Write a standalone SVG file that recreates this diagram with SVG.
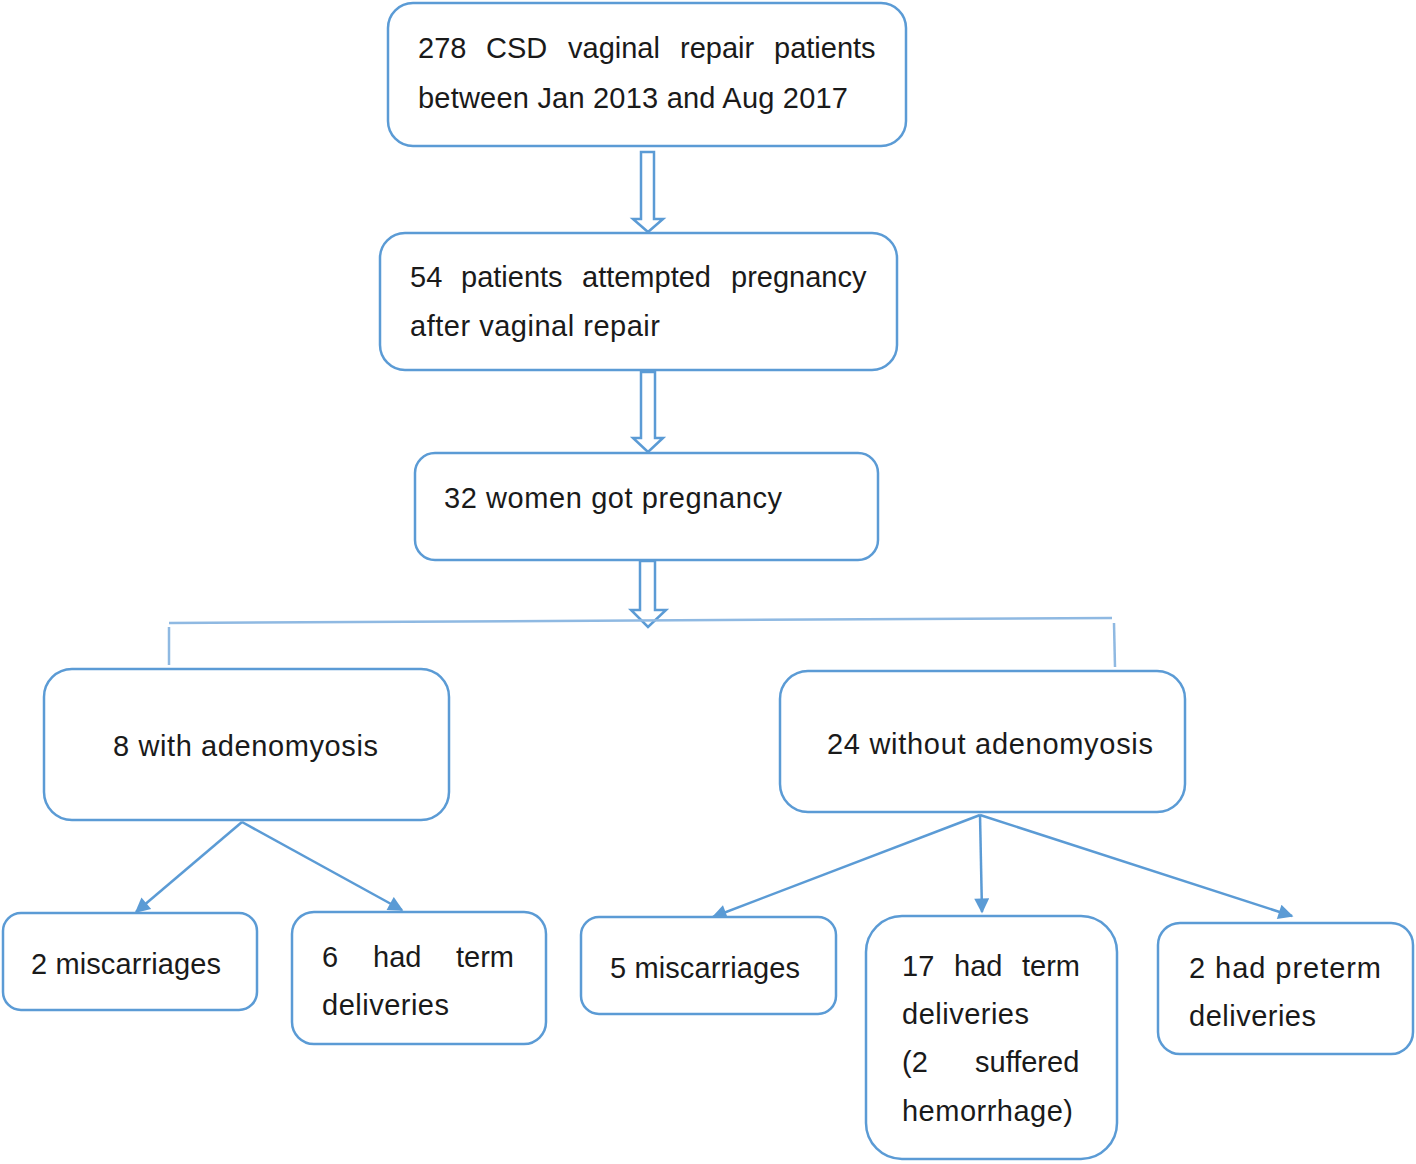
<svg xmlns="http://www.w3.org/2000/svg" width="1416" height="1164" viewBox="0 0 1416 1164">
<style>
.box{fill:#fff;stroke:#5b9bd5;stroke-width:2.5}
.t{font-family:"Liberation Sans",Arial,sans-serif;font-size:29px;fill:#1a1a1a}
.c{fill:none;stroke:#5b9bd5;stroke-width:2.5}
.h{fill:#fff;stroke:#5b9bd5;stroke-width:2.5;stroke-linejoin:miter}
.l{fill:none;stroke:#8fb9e2;stroke-width:2.5}
</style>
<defs>
<marker id="ah" viewBox="0 0 10 10" refX="9" refY="5" markerWidth="7" markerHeight="6" markerUnits="strokeWidth" orient="auto">
<path d="M0,0 L10,5 L0,10 z" fill="#5b9bd5"/>
</marker>
</defs>
<g id="connectors">
<polygon class="h" points="641,152 654,152 654,219 663,219 648,232 633,219 641,219"/>
<polygon class="h" points="641,372 655,372 655,438 663,438 648,452 633,438 641,438"/>
<polygon class="h" points="640,561 655,561 655,610 666,610 648,627 631,610 640,610"/>
<path class="l" d="M169,623 L1112,618"/>
<path class="l" d="M169,627 L169,665"/>
<path class="l" d="M1114,623 L1115,667"/>
<path class="c" d="M242,822 L136,912" marker-end="url(#ah)"/>
<path class="c" d="M242,822 L402,910" marker-end="url(#ah)"/>
<path class="c" d="M980,815 L713,917" marker-end="url(#ah)"/>
<path class="c" d="M980,815 L982,912" marker-end="url(#ah)"/>
<path class="c" d="M980,815 L1292,916" marker-end="url(#ah)"/>
</g>
<g id="n1"><rect class="box" x="388" y="3" width="518" height="143" rx="25"/>
<text class="t" y="58"><tspan x="418">278</tspan><tspan x="486">CSD</tspan><tspan x="568">vaginal</tspan><tspan x="680">repair</tspan><tspan x="774">patients</tspan></text>
<text class="t" x="418" y="108" textLength="430">between Jan 2013 and Aug 2017</text></g>
<g id="n2"><rect class="box" x="380" y="233" width="517" height="137" rx="25"/>
<text class="t" y="287"><tspan x="410">54</tspan><tspan x="461">patients</tspan><tspan x="582">attempted</tspan><tspan x="731">pregnancy</tspan></text>
<text class="t" x="410" y="336" textLength="250">after vaginal repair</text></g>
<g id="n3"><rect class="box" x="415" y="453" width="463" height="107" rx="20"/>
<text class="t" x="444" y="508" textLength="338">32 women got pregnancy</text></g>
<g id="n4"><rect class="box" x="44" y="669" width="405" height="151" rx="28"/>
<text class="t" x="113" y="756" textLength="265">8 with adenomyosis</text></g>
<g id="n5"><rect class="box" x="780" y="671" width="405" height="141" rx="28"/>
<text class="t" x="827" y="754" textLength="326">24 without adenomyosis</text></g>
<g id="n6"><rect class="box" x="3" y="913" width="254" height="97" rx="18"/>
<text class="t" x="31" y="974" textLength="190">2 miscarriages</text></g>
<g id="n7"><rect class="box" x="292" y="912" width="254" height="132" rx="22"/>
<text class="t" y="967"><tspan x="322">6</tspan><tspan x="373">had</tspan><tspan x="456">term</tspan></text>
<text class="t" x="322" y="1015" textLength="127">deliveries</text></g>
<g id="n8"><rect class="box" x="581" y="917" width="255" height="97" rx="18"/>
<text class="t" x="610" y="978" textLength="190">5 miscarriages</text></g>
<g id="n9"><rect class="box" x="866" y="916" width="251" height="243" rx="36"/>
<text class="t" y="976"><tspan x="902">17</tspan><tspan x="954">had</tspan><tspan x="1022">term</tspan></text>
<text class="t" x="902" y="1024" textLength="127">deliveries</text>
<text class="t" y="1072"><tspan x="902">(2</tspan><tspan x="975">suffered</tspan></text>
<text class="t" x="902" y="1121" textLength="171">hemorrhage)</text></g>
<g id="n10"><rect class="box" x="1158" y="923" width="255" height="131" rx="22"/>
<text class="t" x="1189" y="978" textLength="192">2 had preterm</text>
<text class="t" x="1189" y="1026" textLength="127">deliveries</text></g>
</svg>
